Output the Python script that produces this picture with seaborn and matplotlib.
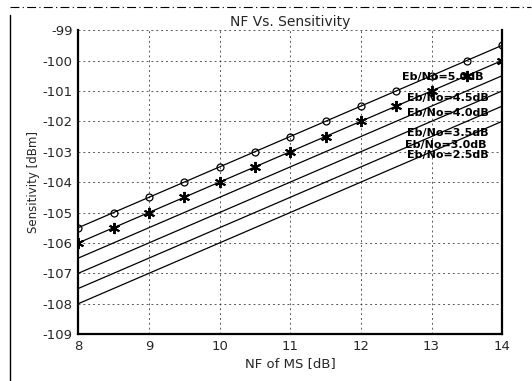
import pandas as pd
import seaborn as sns
import matplotlib.pyplot as plt
from matplotlib.lines import Line2D

# NF of MS [dB]
nf = [8, 8.5, 9, 9.5, 10, 10.5, 11, 11.5, 12, 12.5, 13, 13.5, 14]

# sensitivity [dBm] for each Eb/No
sens_50 = [-105.5, -105, -104.5, -104, -103.5, -103, -102.5, -102, -101.5, -101, -100.5, -100, -99.5]
sens_45 = [-106, -105.5, -105, -104.5, -104, -103.5, -103, -102.5, -102, -101.5, -101, -100.5, -100]
sens_40 = [-106.5, -106, -105.5, -105, -104.5, -104, -103.5, -103, -102.5, -102, -101.5, -101, -100.5]
sens_35 = [-107, -106.5, -106, -105.5, -105, -104.5, -104, -103.5, -103, -102.5, -102, -101.5, -101]
sens_30 = [-107.5, -107, -106.5, -106, -105.5, -105, -104.5, -104, -103.5, -103, -102.5, -102, -101.5]
sens_25 = [-108, -107.5, -107, -106.5, -106, -105.5, -105, -104.5, -104, -103.5, -103, -102.5, -102]

labels = ["Eb/No=5.0dB", "Eb/No=4.5dB", "Eb/No=4.0dB",
          "Eb/No=3.5dB", "Eb/No=3.0dB", "Eb/No=2.5dB"]
label_x = [12.58, 12.65, 12.65, 12.65, 12.62, 12.65]
label_y = [-100.55, -101.24, -101.73, -102.39, -102.78, -103.11]

x_ticks = [8, 9, 10, 11, 12, 13, 14]
y_ticks = [-99, -100, -101, -102, -103, -104, -105, -106, -107, -108, -109]

sns.set_style("white")
plt.rcParams["font.family"] = ["DejaVu Sans"]
plt.rcParams["axes.unicode_minus"] = False

fig = plt.figure(figsize=(5.32, 3.81), dpi=100)
ax = fig.add_axes([0.147, 0.123, 0.797, 0.798])

series = [sens_50, sens_45, sens_40, sens_35, sens_30, sens_25]
markers = ["o", (6, 2, 0), None, None, None, None]
for vals, mk in zip(series, markers):
    sns.lineplot(x=nf, y=vals, ax=ax, color="black", linewidth=0.9,
                 marker=mk, markersize=5 if mk == "o" else 8,
                 markerfacecolor="none" if mk == "o" else "black",
                 markeredgecolor="black", markeredgewidth=0.9 if mk == "o" else 1.4)

for txt, tx, ty in zip(labels, label_x, label_y):
    ax.text(tx, ty, txt, fontsize=8, fontweight="bold", va="center", ha="left",
            color="black")

ax.set_xlim(8, 14)
ax.set_ylim(-109, -99)
ax.set_xticks(x_ticks)
ax.set_yticks(y_ticks)
ax.tick_params(labelsize=9.5, length=0, pad=4)
ax.grid(True, color="#222222", linestyle=(0, (2, 3)), linewidth=0.7, alpha=0.75)

for side in ["left", "right", "bottom"]:
    ax.spines[side].set_color("black")
    ax.spines[side].set_linewidth(1.6)
ax.spines["top"].set_visible(False)

ax.set_title("NF Vs. Sensitivity", fontsize=10, pad=3)
ax.set_xlabel("NF of MS [dB]", fontsize=9.5, labelpad=3)
ax.set_ylabel("Sensitivity [dBm]", fontsize=8.5, labelpad=2)

# scanned figure frame
fig.add_artist(Line2D([0.019, 0.019], [0.0, 0.96], color="black", linewidth=1.0,
                      transform=fig.transFigure))
fig.add_artist(Line2D([0.019, 0.998], [0.982, 0.982], color="black", linewidth=0.8,
                      linestyle=(0, (8, 3, 1, 3)), transform=fig.transFigure))

fig.savefig("out.png", dpi=100)
